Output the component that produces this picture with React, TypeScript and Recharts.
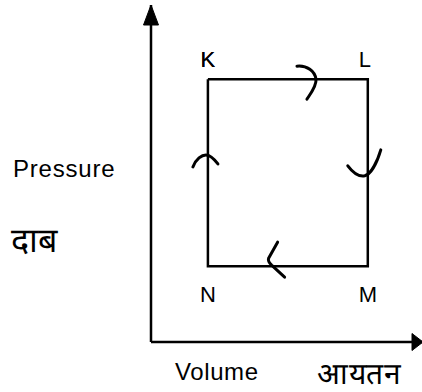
import React from 'react';
import { ComposedChart, XAxis, YAxis, Scatter } from 'recharts';

// Axis extents (arbitrary units of the schematic)
const volumeMax = 10;
const pressureMax = 10;

// Cycle corners K -> L -> M -> N
const cornerNames = ['K', 'L', 'M', 'N'];
const cornerVolume = [2.1, 8.0, 8.0, 2.1];
const cornerPressure = [7.8, 7.8, 2.25, 2.25];

// Direction marks on each side of the cycle
const markVolume = [6.05, 8.0, 4.45, 2.1];
const markPressure = [7.8, 5.05, 2.25, 5.55];
const markDirection = ['right', 'down', 'left', 'up'];

// Axis titles
const xAxisTitles = ['Volume', 'आयतन'];
const yAxisTitles = ['Pressure', 'दाब'];

const LATIN = '"Liberation Sans", Arial, Helvetica, sans-serif';

const cornerData = cornerNames.map((name, i) => ({ name, v: cornerVolume[i], p: cornerPressure[i] }));
const cycleData = [...cornerData, cornerData[0]];
const markData = markDirection.map((dir, i) => ({ dir, v: markVolume[i], p: markPressure[i] }));
const tipData = [
  { dir: 'right', v: volumeMax, p: 0 },
  { dir: 'up', v: 0, p: pressureMax },
];

const MARK_PATHS: Record<string, string> = {
  right: 'M -18 -13 C -8 -14, 0 -8, 1 0 C 2 6, -4 14, -8 20',
  down: 'M -20 -6 C -14 2, -8 5, -3 4 C 4 2, 10 -12, 13 -22',
  left: 'M 6 -24 L -3 -8 Q -4 -5 0 -1 L 13 11',
  up: 'M -15 12 C -12 4, -6 0, -2 0 C 3 0, 7 5, 10 9',
};

const CornerShape = (props: any) => {
  const { cx, cy, payload } = props;
  if (cx == null || cy == null || !payload || payload.name == null) return <g />;
  const isTop = payload.p > pressureMax / 2;
  const dx = payload.name === 'L' ? -3 : 0;
  return (
    <text
      x={cx + dx}
      y={isTop ? cy - 12 : cy + 36}
      textAnchor="middle"
      fontFamily={LATIN}
      fontSize={22}
      fill="#000"
    >
      {payload.name}
    </text>
  );
};

const MarkShape = (props: any) => {
  const { cx, cy, payload } = props;
  if (cx == null || cy == null || !payload) return <g />;
  return (
    <path
      d={MARK_PATHS[payload.dir]}
      transform={`translate(${cx},${cy})`}
      fill="none"
      stroke="#000"
      strokeWidth={3}
      strokeLinecap="round"
      strokeLinejoin="round"
    />
  );
};

const TipShape = (props: any) => {
  const { cx, cy, payload } = props;
  if (cx == null || cy == null || !payload) return <g />;
  const d =
    payload.dir === 'up'
      ? `M ${cx} ${cy} L ${cx - 7.5} ${cy + 20} L ${cx + 7.5} ${cy + 20} Z`
      : `M ${cx + 1} ${cy} L ${cx - 10} ${cy - 8.5} L ${cx - 10} ${cy + 8.5} Z`;
  return <path d={d} fill="#000" stroke="#000" strokeWidth={1} />;
};

const XTitle = (lp: any) => {
  const vb = lp.viewBox || { x: 151, y: 342 };
  return (
    <g>
      <text x={vb.x + 24} y={vb.y + 38} fontFamily={LATIN} fontSize={24} letterSpacing={0.6} fill="#000">
        {xAxisTitles[0]}
      </text>
      <text x={vb.x + 166} y={vb.y + 42} fontFamily={LATIN} fontSize={30} letterSpacing={0.5} fill="#000">
        {xAxisTitles[1]}
      </text>
    </g>
  );
};

const YTitle = (lp: any) => {
  const vb = lp.viewBox || { x: 150, y: 5 };
  return (
    <g>
      <text x={vb.x - 137} y={vb.y + 172} fontFamily={LATIN} fontSize={24} letterSpacing={0.8} fill="#000">
        {yAxisTitles[0]}
      </text>
      <text x={vb.x - 139} y={vb.y + 247} fontFamily={LATIN} fontSize={34} fill="#000">
        {yAxisTitles[1]}
      </text>
    </g>
  );
};

export default function App() {
  return (
    <div style={{ position: 'absolute', left: 0, top: 0, width: 422, height: 392, background: '#fff' }}>
      <ComposedChart
        width={422}
        height={392}
        margin={{ top: 5, right: 0, bottom: 49, left: 150 }}
      >
        <XAxis
          type="number"
          dataKey="v"
          domain={[0, volumeMax]}
          height={1}
          tick={false}
          tickLine={false}
          axisLine={{ stroke: '#000', strokeWidth: 2.5 }}
          label={{ content: XTitle }}
        />
        <YAxis
          type="number"
          dataKey="p"
          domain={[0, pressureMax]}
          width={1}
          tick={false}
          tickLine={false}
          axisLine={{ stroke: '#000', strokeWidth: 2.5 }}
          label={{ content: YTitle }}
        />
        <Scatter
          data={cycleData}
          line={{ stroke: '#000', strokeWidth: 2.5 }}
          shape={CornerShape}
          isAnimationActive={false}
        />
        <Scatter data={markData} shape={MarkShape} isAnimationActive={false} />
        <Scatter data={tipData} shape={TipShape} isAnimationActive={false} />
      </ComposedChart>
    </div>
  );
}
